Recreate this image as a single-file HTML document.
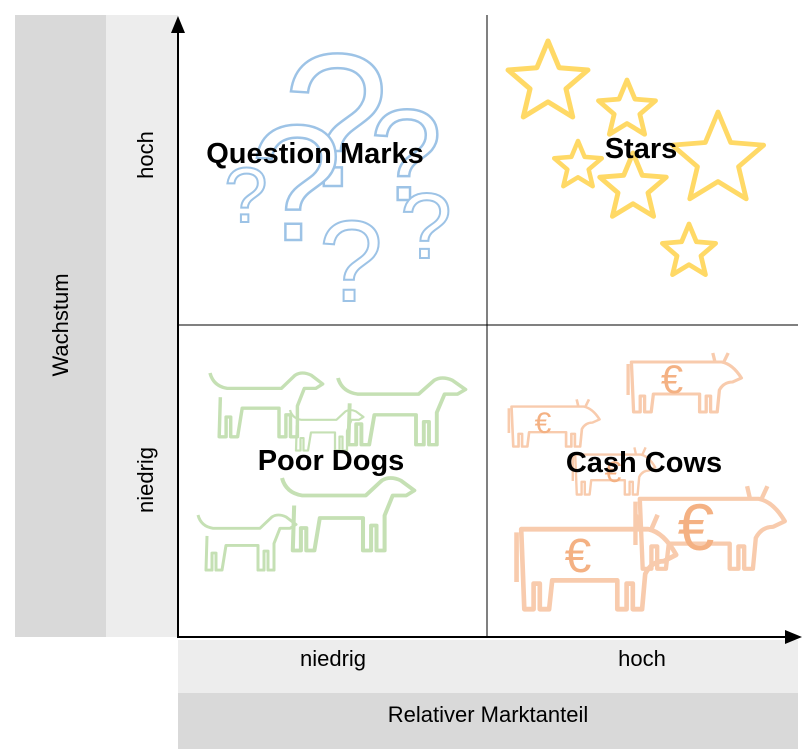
<!DOCTYPE html>
<html><head><meta charset="utf-8"><style>
html,body{margin:0;padding:0;background:#fff;width:810px;height:749px;overflow:hidden}
svg text{font-family:"Liberation Sans","DejaVu Sans",sans-serif}
</style></head><body>
<svg width="810" height="749" viewBox="0 0 810 749" xmlns="http://www.w3.org/2000/svg">
<defs>
<polygon id="star" points="0,-1 .265,-.364 .951,-.309 .428,.139 .588,.809 0,.45 -.588,.809 -.428,.139 -.951,-.309 -.265,-.364"/>
<path id="dog" d="M0,0 Q3,12 15,14 L62,14 L74,2 Q80,-2 88,2 L98,10 L92,14 L82,14 L76,30 L76,58 L70,58 L70,38 L66,38 L66,58 L60,58 L60,32 L28,32 L24,58 L18,58 L18,40 L14,40 L14,58 L8,58 L9,22"/>
<path id="cow" d="M4,12 L86,12 Q96,14 104,28 L96,32 Q88,32 84,40 L82,62 L76,62 L76,46 L72,46 L72,62 L66,62 L66,44 L24,44 L22,62 L16,62 L16,46 L12,46 L12,62 L6,62 Z M80,12 L78,3 M88,12 L92,3 M1,14 L1,45"/>
</defs>
<rect x="15" y="15" width="91" height="622" fill="#d9d9d9"/>
<rect x="106" y="15" width="72" height="622" fill="#ededed"/>
<rect x="178" y="640" width="620" height="53" fill="#ededed"/>
<rect x="178" y="693" width="620" height="56" fill="#d9d9d9"/>

<g font-family="DejaVu Sans" fill="#fff" stroke="#9dc3e6" stroke-width="2.5" text-anchor="middle">
<text x="336" y="186" font-size="190">?</text>
<text x="296" y="240" font-size="165">?</text>
<text x="406" y="200" font-size="130">?</text>
<text x="246" y="222" font-size="78" stroke-width="2">?</text>
<text x="426" y="258" font-size="93" stroke-width="2">?</text>
<text x="351" y="301" font-size="115" stroke-width="2">?</text>
</g>
<g fill="none" stroke="#ffd966" stroke-linejoin="round">
<use href="#star" transform="translate(548,83) scale(42)" style="stroke-width:0.12"/>
<use href="#star" transform="translate(627,110) scale(30)" style="stroke-width:0.16"/>
<use href="#star" transform="translate(578,166) scale(25)" style="stroke-width:0.18"/>
<use href="#star" transform="translate(718,160) scale(48)" style="stroke-width:0.1"/>
<use href="#star" transform="translate(633,188) scale(35)" style="stroke-width:0.14"/>
<use href="#star" transform="translate(689,252) scale(28)" style="stroke-width:0.17"/>
</g>
<g fill="none" stroke="#c5e0b4" stroke-width="3" stroke-linejoin="round">
<use href="#dog" transform="translate(210,373) scale(1.15,1.1)"/>
<use href="#dog" transform="translate(338,378) scale(1.3,1.15)"/>
<use href="#dog" transform="translate(290,410) scale(0.75,0.7)"/>
<use href="#dog" transform="translate(282,478) scale(1.35,1.25)"/>
<use href="#dog" transform="translate(198,515) scale(1.0,0.95)"/>
</g>
<g fill="none" stroke="#f8cbad" stroke-width="3" stroke-linejoin="round">
<use href="#cow" transform="translate(627,350) scale(1.1,1)"/>
<use href="#cow" transform="translate(508,397) scale(0.88,0.8)"/>
<use href="#cow" transform="translate(572,445) scale(0.8,0.8)"/>
<use href="#cow" transform="translate(634,482) scale(1.45,1.4)"/>
<use href="#cow" transform="translate(515,510) scale(1.55,1.6)"/>
</g>
<g fill="#f4b183" font-family="DejaVu Sans" text-anchor="middle">
<text x="672" y="393" font-size="40">€</text>
<text x="543" y="433" font-size="30">€</text>
<text x="613" y="482" font-size="30">€</text>
<text x="696" y="550" font-size="66">€</text>
<text x="578" y="572" font-size="48">€</text>
</g>

<line x1="487" y1="15" x2="487" y2="637" stroke="#000" stroke-width="1"/>
<line x1="178" y1="325" x2="798" y2="325" stroke="#000" stroke-width="1"/>
<line x1="178" y1="30" x2="178" y2="638" stroke="#000" stroke-width="2"/>
<polygon points="178,16 171,33 185,33" fill="#000"/>
<line x1="177" y1="637" x2="788" y2="637" stroke="#000" stroke-width="2"/>
<polygon points="802,637 785,630 785,644" fill="#000"/>

<g font-weight="bold" font-size="29" fill="#000" text-anchor="middle">
<text x="315" y="163">Question Marks</text>
<text x="641" y="158">Stars</text>
<text x="331" y="470">Poor Dogs</text>
<text x="644" y="472">Cash Cows</text>
</g>
<g font-size="22" fill="#000" text-anchor="middle">
<text transform="translate(153,155) rotate(-90)">hoch</text>
<text transform="translate(153,480) rotate(-90)">niedrig</text>
<text transform="translate(68,325) rotate(-90)">Wachstum</text>
<text x="333" y="666">niedrig</text>
<text x="642" y="666">hoch</text>
<text x="488" y="722">Relativer Marktanteil</text>
</g>
</svg>
</body></html>
